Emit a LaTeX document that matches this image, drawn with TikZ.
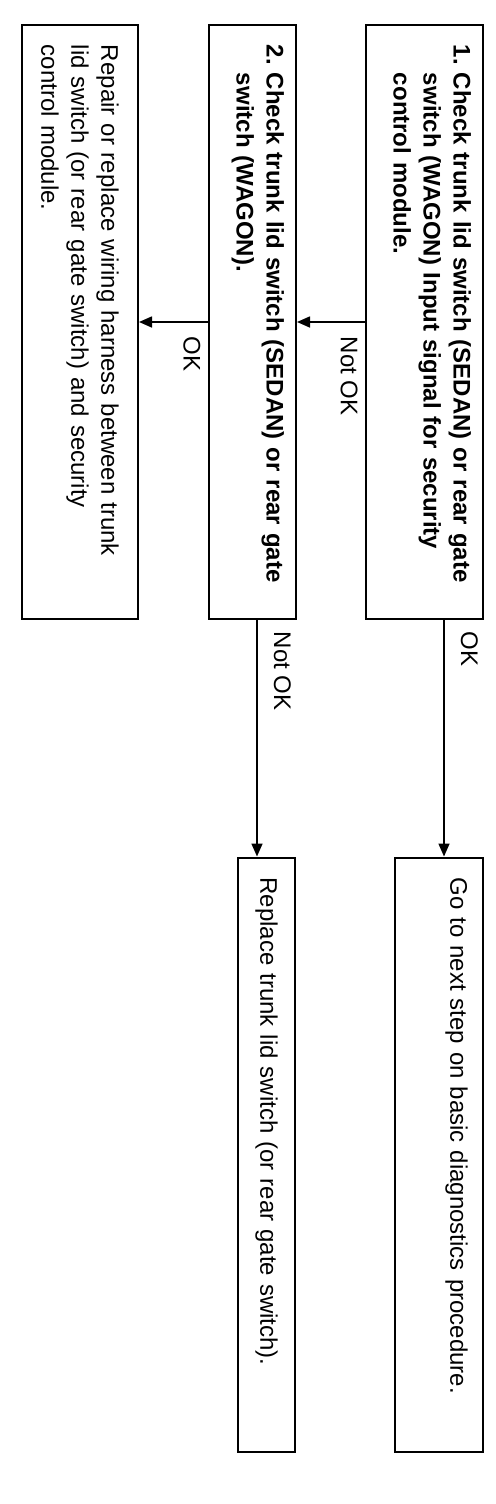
\documentclass[tikz,border=0pt]{standalone}
\usepackage{fontspec}
\setmainfont{Liberation Sans}
\usetikzlibrary{positioning,arrows.meta}
\newcommand{\boxfont}{\fontsize{12}{15}\selectfont}

\begin{document}
\begin{tikzpicture}[x=0.5pt, y=-0.5pt, font=\boxfont, >={Triangle[length=6.5pt, width=5.5pt]},
  box/.style={draw, line width=1pt, rotate=-90, align=left, inner xsep=10pt, inner ysep=2pt, text width=277pt},
  stepbox/.style={box, font=\boxfont\bfseries},
  lbl/.style={rotate=-90, anchor=south west, inner sep=0pt}]
  \def\rowT{322} \def\rowB{1154.5}
  \useasboundingbox (0,0) rectangle (496,1504);
  \node[stepbox, minimum height=58.5pt, text depth=24.5pt] (step1) at (424.5,\rowT)
    {\begin{tabular}{@{}p{14pt}@{}l@{}}1. & Check trunk lid switch (SEDAN) or rear gate\\
      & switch (WAGON) Input signal for security\\ & control module.\end{tabular}};
  \node[stepbox, minimum height=43.5pt, text depth=17pt] (step2) at (252.5,\rowT)
    {\begin{tabular}{@{}p{14pt}@{}l@{}}2. & Check trunk lid switch (SEDAN) or rear gate\\
      & switch (WAGON).\end{tabular}};
  \node[box, minimum height=58pt] (repair) at (80,\rowT)
    {Repair or replace wiring harness between trunk\\ lid switch (or rear gate switch) and security\\ control module.};
  \node[box, minimum height=44pt, text depth=20pt] (gonext) at (439,\rowB)
    {Go to next step on basic diagnostics procedure.};
  \node[box, minimum height=28.5pt] (replace) at (266.5,\rowB)
    {Replace trunk lid switch (or rear gate switch).};
  % free ends of the down arrows
  \coordinate (okA) at ([xshift=2.5pt]gonext.west);
  \coordinate (nokB) at ([xshift=2.25pt]step2.east);
  \draw[->, line width=0.8pt] (step1.south) -- node[yshift=-7pt, lbl, pos=0.37] {Not OK} (step2.north);
  \draw[->, line width=0.8pt] (step2.south) -- node[yshift=-7pt, lbl, pos=0.37] {OK} (repair.north);
  \draw[->, line width=0.8pt] (okA |- step1.east) -- node[xshift=8pt, yshift=-5.5pt, lbl, pos=0] {OK} (okA);
  \draw[->, line width=0.8pt] (nokB) -- node[xshift=8pt, yshift=-5.5pt, lbl, pos=0] {Not OK} (nokB |- replace.west);
\end{tikzpicture}
\end{document}
